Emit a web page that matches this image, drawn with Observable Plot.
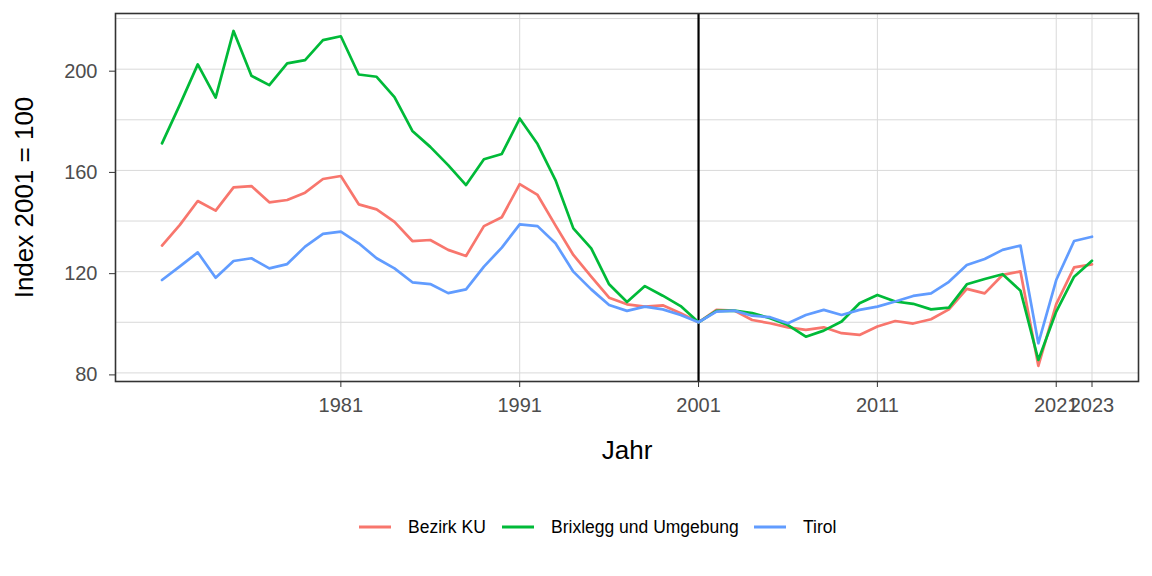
<!DOCTYPE html>
<html>
<head>
<meta charset="utf-8">
<script src="https://cdn.jsdelivr.net/npm/d3@7"></script>
<script src="https://cdn.jsdelivr.net/npm/@observablehq/plot@0.6"></script>
<style>
  html, body { margin: 0; padding: 0; background: #fff; }
  body { width: 1152px; height: 576px; overflow: hidden; font-family: "Liberation Sans", Arial, sans-serif; }
  #legend { position: relative; height: 96px; }
  .item { position: absolute; top: 47px; display: flex; align-items: center; transform: translateY(-50%); font-size: 17.5px; color: #000; }
  .key { width: 32px; height: 3px; margin-right: 17px; }
</style>
</head>
<body>
<div id="chart"></div>
<div id="legend"></div>
<script>
const years = d3.range(1971, 2024);
const seriesNames = ["Bezirk KU", "Brixlegg und Umgebung", "Tirol"];
const seriesColors = ["#F8766D", "#00BA38", "#619CFF"];

const bezirkKU = [
  130.3, 138.5, 147.9, 144.1, 153.3, 153.8, 147.4, 148.3, 151.2, 156.6,
  157.8, 146.6, 144.6, 139.7, 132.1, 132.5, 128.6, 126.2, 138.0, 141.5,
  154.6, 150.3, 138.3, 126.6, 118.0, 109.7, 107.1, 106.2, 106.7, 103.6,
  100.0, 104.9, 104.6, 100.9, 99.6, 98.0, 97.0, 98.0, 95.7, 95.0,
  98.3, 100.5, 99.5, 101.2, 105.1, 113.2, 111.4, 118.7, 120.1, 82.8,
  107.2, 121.7, 122.9
];
const brixlegg = [
  170.7, 186.0, 201.9, 188.8, 215.1, 197.4, 193.7, 202.3, 203.6, 211.5,
  213.0, 197.9, 197.0, 189.0, 175.6, 169.3, 162.1, 154.2, 164.4, 166.5,
  180.5, 170.4, 156.2, 137.1, 129.2, 115.0, 108.0, 114.3, 110.5, 106.4,
  100.0, 104.5, 104.6, 103.6, 101.6, 98.9, 94.3, 96.7, 100.3, 107.5,
  110.8, 108.2, 107.3, 105.1, 105.8, 115.0, 117.1, 119.0, 112.5, 85.1,
  104.2, 118.0, 124.3
];
const tirol = [
  116.7, 122.1, 127.6, 117.6, 124.2, 125.3, 121.3, 123.0, 129.9, 134.9,
  135.8, 131.2, 125.3, 121.3, 115.8, 115.1, 111.5, 113.0, 122.0, 129.5,
  138.7, 138.0, 131.2, 120.0, 113.0, 106.8, 104.5, 106.2, 105.1, 102.9,
  100.0, 104.2, 104.6, 102.6, 102.0, 99.6, 102.9, 104.9, 102.9, 104.9,
  106.2, 108.2, 110.4, 111.4, 116.0, 122.6, 125.0, 128.6, 130.3, 91.7,
  116.7, 132.1, 133.8
];
const xTicks = [1981, 1991, 2001, 2011, 2021, 2023];
const yTicks = [80, 120, 160, 200];
const yGrid = [80, 100, 120, 140, 160, 180, 200, 220];
const markerYear = [2001];

const seriesValues = [bezirkKU, brixlegg, tirol];
const data = [];
seriesNames.forEach((name, i) => {
  years.forEach((yr, j) => data.push({year: yr, value: seriesValues[i][j], series: name}));
});

const chart = Plot.plot({
  width: 1152,
  height: 480,
  marginLeft: 115,
  marginRight: 14,
  marginTop: 13,
  marginBottom: 99,
  style: {fontFamily: '"Liberation Sans", Arial, sans-serif', background: "#fff"},
  x: {domain: [1968.4, 2025.6]},
  y: {domain: [76.6, 222.0]},
  color: {domain: seriesNames, range: seriesColors},
  marks: [
    Plot.gridY(yGrid, {stroke: "#d9d9d9", strokeOpacity: 1, strokeWidth: 1}),
    Plot.gridX(xTicks, {stroke: "#d9d9d9", strokeOpacity: 1, strokeWidth: 1}),
    Plot.ruleX(markerYear, {stroke: "#000", strokeWidth: 2.2}),
    Plot.line(data, {x: "year", y: "value", z: "series", stroke: "series", strokeWidth: 2.7}),
    Plot.frame({stroke: "#333", strokeWidth: 1.6}),
    Plot.axisX(xTicks, {tickSize: 6, tickPadding: 10, fontSize: 20, fill: "#4d4d4d", stroke: "#333", tickFormat: d => String(d), label: null}),
    Plot.axisY(yTicks, {tickSize: 6, tickPadding: 12, fontSize: 20, fill: "#4d4d4d", stroke: "#333", dy: 2, label: null}),
    Plot.text(["Jahr"], {frameAnchor: "bottom", dy: 77, fontSize: 26, fill: "#000"}),
    Plot.text(["Index 2001 = 100"], {frameAnchor: "left", textAnchor: "middle", lineAnchor: "middle", dx: -91, rotate: -90, fontSize: 26, fill: "#000"})
  ]
});
document.getElementById("chart").appendChild(chart);

const legend = document.getElementById("legend");
const lefts = [359, 502, 754];
seriesNames.forEach((name, i) => {
  const it = document.createElement("div");
  it.className = "item";
  it.style.left = lefts[i] + "px";
  const k = document.createElement("span");
  k.className = "key";
  k.style.background = seriesColors[i];
  const t = document.createElement("span");
  t.textContent = name;
  it.appendChild(k);
  it.appendChild(t);
  legend.appendChild(it);
});
</script>
</body>
</html>
